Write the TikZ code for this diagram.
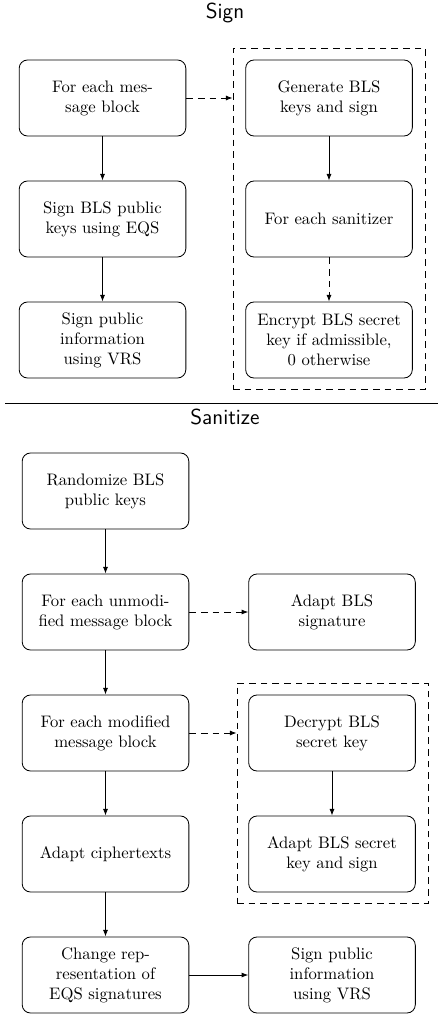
\documentclass[tikz,border=0pt]{standalone}
\usepackage{amsmath}
\usepackage{tikz}
\usetikzlibrary{arrows.meta}

\tikzset{
    stepbox/.style={draw, line width=0.5pt, rounded corners=5pt, minimum width=100pt, minimum height=45.6pt, align=center, inner sep=2pt},
    groupbox/.style={draw, line width=0.5pt, dash pattern=on 4pt off 3pt, inner sep=0pt},
    titletext/.style={font=\sffamily\fontsize{13}{15}\selectfont, inner sep=0pt},
    flow/.style={->, line width=0.5pt},
    optflow/.style={->, line width=0.5pt, dash pattern=on 4pt off 3pt}
}

\begin{document}
\begin{tikzpicture}[x=0.6pt, y=-0.6pt, >={Latex[length=4pt,width=3pt]}]
        \useasboundingbox (0,0) rectangle (438,1015);

        % Sign 部分
        \node[titletext] (signtitle) at (225,13) {Sign};

        % 左列
        \node[stepbox] (msgblock) at (102.5,98) {For each mes-\\sage block};
        \node[stepbox] (signpk) at (102.5,219) {Sign BLS public\\keys using EQS};
        \node[stepbox] (signvrs) at (102.5,340) {Sign public\\information\\using VRS};

        % 虚线框及右列
        \node[groupbox, minimum width=115.2pt, minimum height=204.6pt] (signgrp) at (329,218.5) {};
        \node[stepbox] (genkeys) at (329,98) {Generate BLS\\keys and sign};
        \node[stepbox] (eachsan) at (329,219) {For each sanitizer};
        \node[stepbox] (encsk) at (329,340) {Encrypt BLS secret\\key if admissible,\\0 otherwise};

        % 箭头
        \draw[flow] (msgblock) -- (signpk);
        \draw[flow] (signpk) -- (signvrs);
        \draw[optflow] (msgblock.east) -- (msgblock.east -| signgrp.west);
        \draw[flow] (genkeys) -- (eachsan);
        \draw[optflow] (eachsan) -- (encsk);

        % 分隔线
        \draw[line width=0.5pt] (5,403) -- (438,403);

        % Sanitize 部分
        \node[titletext] (santitle) at (225,417) {Sanitize};

        % 左列
        \node[stepbox] (randpk) at (105.5,491) {Randomize BLS\\public keys};
        \node[stepbox] (unmod) at (105.5,612) {For each unmodi-\\fied message block};
        \node[stepbox] (modblock) at (105.5,733) {For each modified\\message block};
        \node[stepbox] (adaptct) at (105.5,854) {Adapt ciphertexts};
        \node[stepbox] (changerep) at (105.5,975) {Change rep-\\resentation of\\EQS signatures};

        % 右列
        \node[stepbox] (adaptsig) at (332,612) {Adapt BLS\\signature};
        \node[groupbox, minimum width=114.6pt, minimum height=132pt] (sangrp) at (332.5,793) {};
        \node[stepbox] (decsk) at (332,733) {Decrypt BLS\\secret key};
        \node[stepbox] (adaptsk) at (332,854) {Adapt BLS secret\\key and sign};
        \node[stepbox] (sanvrs) at (332,975) {Sign public\\information\\using VRS};

        % 箭头
        \draw[flow] (randpk) -- (unmod);
        \draw[flow] (unmod) -- (modblock);
        \draw[flow] (modblock) -- (adaptct);
        \draw[flow] (adaptct) -- (changerep);
        \draw[optflow] (unmod) -- (adaptsig);
        \draw[optflow] (modblock.east) -- (modblock.east -| sangrp.west);
        \draw[flow] (decsk) -- (adaptsk);
        \draw[flow] (changerep) -- (sanvrs);
    \end{tikzpicture}
\end{document}
